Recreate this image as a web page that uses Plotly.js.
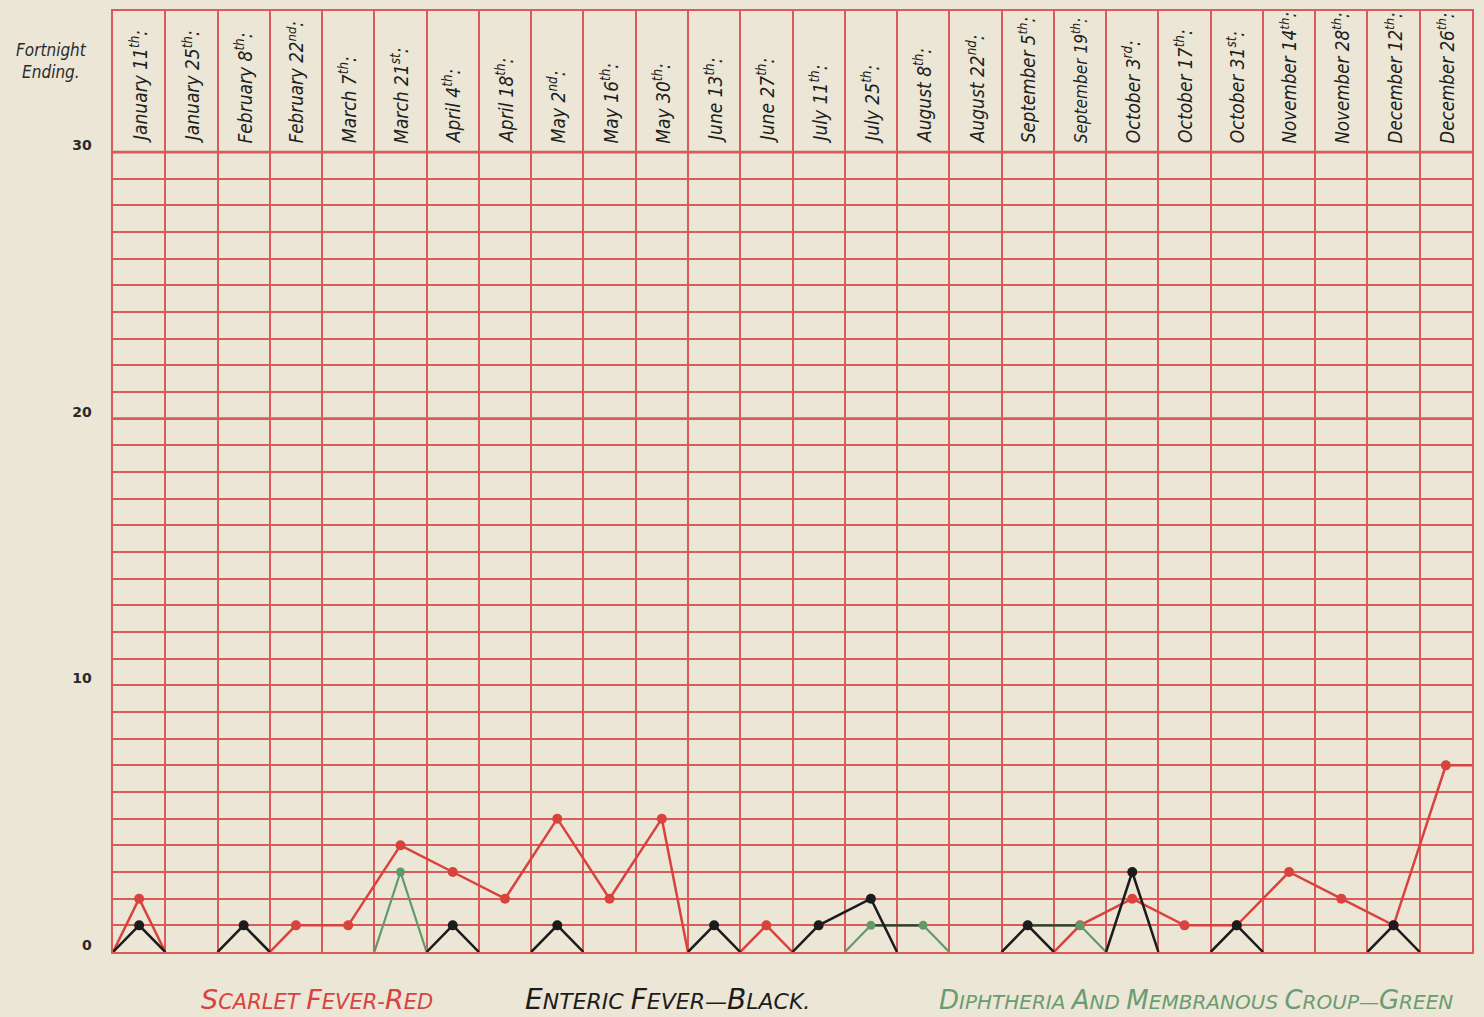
<!DOCTYPE html>
<html>
<head>
<meta charset="utf-8">
<script src="https://cdn.plot.ly/plotly-3.0.1.min.js"></script>
<style>
  html, body { margin: 0; padding: 0; background: #ebe6d6; }
  #chart { width: 1484px; height: 1017px; }
</style>
</head>
<body>
<div id="chart"></div>
<script>
// ---- Data (cases per fortnight) ----
const fortnightDates = ["January 11","January 25","February 8","February 22","March 7","March 21",
  "April 4","April 18","May 2","May 16","May 30","June 13","June 27","July 11","July 25",
  "August 8","August 22","September 5","September 19","October 3","October 17","October 31",
  "November 14","November 28","December 12","December 26"];
const dateSuffixes = ["th","th","th","nd","th","st","th","th","nd","th","th","th","th","th","th",
  "th","nd","th","th","rd","th","st","th","th","th","th"];

const scarletFever = [2,0,0,1,1,4,3,2,5,2,5,0,1,0,0,0,0,0,1,2,1,1,3,2,1,7];
const entericFever = [1,0,1,0,0,0,1,0,1,0,0,1,0,1,2,0,0,1,0,3,0,1,0,0,1,0];
const diphtheria   = [0,0,1,0,0,3,0,0,0,0,0,0,0,0,1,1,0,1,1,0,0,0,0,0,0,0];

const yTickValues = [0,10,20,30];
const majorLines = [20,30];

// ---- Styling ----
const BG = '#ebe6d6';
const GRID = '#d95c5a';
const RED = '#d8433d';
const BLACK = '#1c1c1c';
const GREEN = '#5f9a68';
const DARKGREEN = '#3b3a30';

// Each value sits at its column centre; a zero is drawn where the
// line drops to the column boundary.
function buildPath(vals) {
  const xs = [], ys = [], mx = [], my = [];
  const n = vals.length;
  for (let i = 0; i < n; i++) {
    const v = vals[i];
    if (v > 0) {
      if (i === 0 || vals[i-1] === 0) { xs.push(i); ys.push(0); }
      xs.push(i + 0.5); ys.push(v);
      mx.push(i + 0.5); my.push(v);
      if (i === n - 1) { xs.push(n); ys.push(v); }
      else if (vals[i+1] === 0) { xs.push(i + 1); ys.push(0); xs.push(null); ys.push(null); }
    }
  }
  return {xs, ys, mx, my};
}

// flat segments lying on a grid line (appear dark in the print)
function flatSegments(vals) {
  const xs = [], ys = [];
  for (let i = 0; i < vals.length - 1; i++) {
    if (vals[i] > 0 && vals[i] === vals[i+1]) {
      xs.push(i + 0.5, i + 1.5, null); ys.push(vals[i], vals[i+1], null);
    }
  }
  return {xs, ys};
}

function lineTrace(vals, color, name, msize) {
  const p = buildPath(vals);
  return [
    {x: p.xs, y: p.ys, mode: 'lines', line: {color: color, width: 2.5}, name: name,
     hoverinfo: 'skip', connectgaps: false, showlegend: false},
    {x: p.mx, y: p.my, mode: 'markers', marker: {color: color, size: msize}, name: name,
     showlegend: false}
  ];
}

const g = buildPath(diphtheria);
const gFlat = flatSegments(diphtheria);

const traces = [].concat(
  lineTrace(scarletFever, RED, 'Scarlet Fever', 10),
  [
    {x: g.xs, y: g.ys, mode: 'lines', line: {color: GREEN, width: 2.2}, hoverinfo: 'skip', showlegend: false},
    {x: gFlat.xs, y: gFlat.ys, mode: 'lines', line: {color: DARKGREEN, width: 2.2}, hoverinfo: 'skip', showlegend: false},
    {x: g.mx, y: g.my, mode: 'markers', marker: {color: GREEN, size: 9}, showlegend: false}
  ],
  lineTrace(entericFever, BLACK, 'Enteric Fever', 10)
);

// y grid every unit up to 30, labels at 0/10/20/30
const gridVals = [], gridText = [];
for (let v = 0; v <= 30; v++) {
  gridVals.push(v);
  gridText.push(yTickValues.indexOf(v) >= 0 ? String(v) : '');
}

// header labels
const HAND = 'DejaVu Sans Condensed, DejaVu Sans, sans-serif';
const annotations = fortnightDates.map((d, i) => ({
  x: i + 0.5, y: 30.25, xref: 'x', yref: 'y',
  text: d + '<sup>' + dateSuffixes[i] + '</sup>:',
  textangle: -90, xanchor: 'center', yanchor: 'bottom', showarrow: false,
  font: {family: HAND, size: Math.min(19, 205 / d.length), color: '#1e1e1e', style: 'italic'}
}));

annotations.push({
  x: -0.045, y: 0.947, xref: 'paper', yref: 'paper', showarrow: false,
  text: 'Fortnight<br>Ending.', xanchor: 'center', yanchor: 'middle', align: 'center',
  font: {family: HAND, size: 17, color: '#2a2a2a', style: 'italic'}
});

function smallCaps(txt, big, small) {
  let out = '', prevBreak = true;
  for (const ch of txt) {
    const sz = (/[A-Z]/.test(ch) && prevBreak) ? big : small;
    out += '<span style="font-size:' + sz + 'px">' + ch + '</span>';
    prevBreak = (ch === ' ' || ch === '-' || ch === '—');
  }
  return out;
}

const legendItems = [
  {text: 'SCARLET FEVER-RED', color: RED, x: 0.150, big: 27, small: 21},
  {text: 'ENTERIC FEVER—BLACK.', color: BLACK, x: 0.408, big: 28, small: 22},
  {text: 'DIPHTHERIA AND MEMBRANOUS CROUP—GREEN', color: '#6a9c70', x: 0.797, big: 26, small: 20}
];
legendItems.forEach(it => annotations.push({
  x: it.x, y: -0.051, xref: 'paper', yref: 'paper', showarrow: false,
  text: smallCaps(it.text, it.big, it.small), xanchor: 'center', yanchor: 'middle',
  font: {family: 'DejaVu Sans, sans-serif', size: it.small, color: it.color, style: 'italic'}
}));

const shapes = majorLines.map(v => ({
  type: 'line', xref: 'paper', yref: 'y', x0: 0, x1: 1, y0: v, y1: v,
  line: {color: GRID, width: 2.8}, layer: 'below'
}));

const layout = {
  width: 1484, height: 1017,
  margin: {l: 113, r: 12, t: 11, b: 65},
  paper_bgcolor: BG, plot_bgcolor: BG,
  showlegend: false,
  xaxis: {
    range: [0, 26], tickmode: 'linear', tick0: 0, dtick: 1,
    showgrid: true, gridcolor: GRID, gridwidth: 2,
    showticklabels: false, ticks: '', zeroline: false,
    showline: true, mirror: true, linecolor: GRID, linewidth: 2.2, fixedrange: true
  },
  yaxis: {
    range: [0, 35.29], tickmode: 'array', tickvals: gridVals, ticktext: gridText,
    showgrid: true, gridcolor: GRID, gridwidth: 2,
    ticks: '', zeroline: false, ticklabelstandoff: 16, ticklabelshift: -7,
    showline: true, mirror: true, linecolor: GRID, linewidth: 2.4, fixedrange: true,
    tickfont: {family: 'DejaVu Sans', size: 14, color: '#2a2a2a', weight: 'bold'}
  },
  annotations: annotations,
  shapes: shapes
};

Plotly.newPlot('chart', traces, layout, {displayModeBar: false, staticPlot: true});
</script>
</body>
</html>
